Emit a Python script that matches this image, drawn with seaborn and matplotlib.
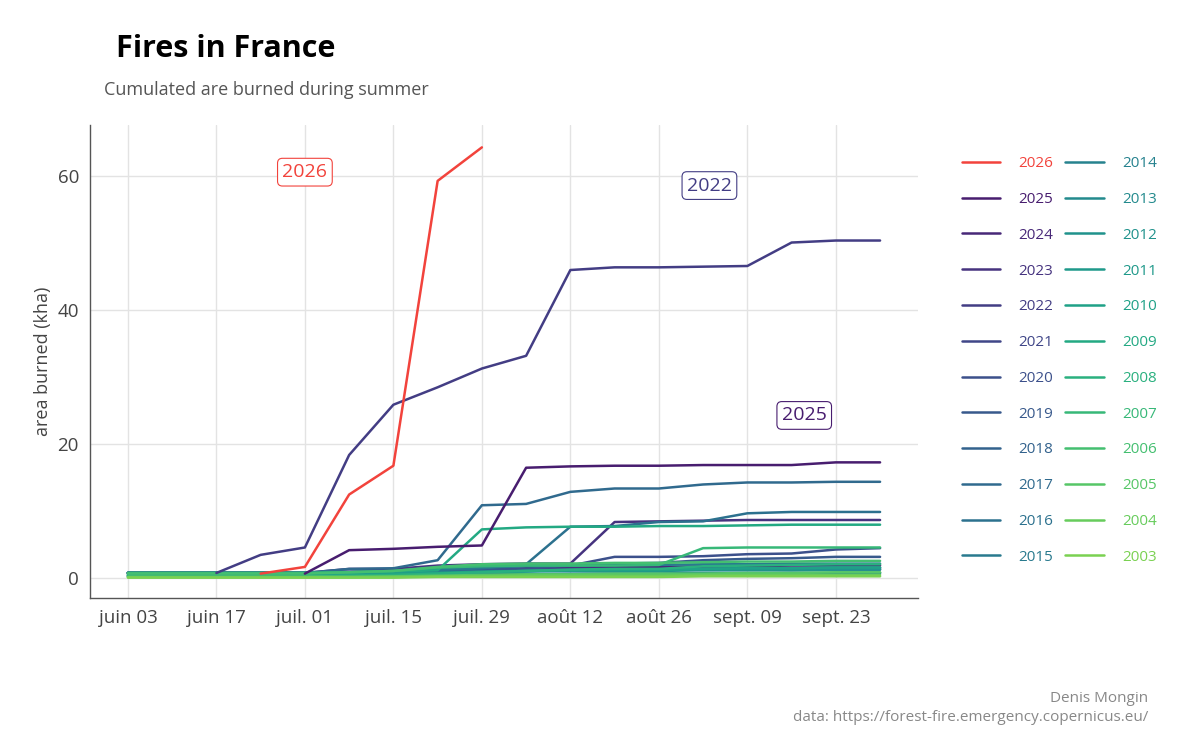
import numpy as np
import pandas as pd
import matplotlib
matplotlib.use("Agg")
import matplotlib.pyplot as plt
import seaborn as sns

dates = pd.date_range("2026-06-03", periods=18, freq="7D")
N = np.nan
years = list(range(2026, 2002, -1))

v2026 = [N, N, N, 0.6, 1.6, 12.4, 16.7, 59.2, 64.2, N, N, N, N, N, N, N, N, N]
v2025 = [N, N, N, N, 0.6, 4.1, 4.3, 4.6, 4.8, 16.4, 16.6, 16.7, 16.7, 16.8, 16.8, 16.8, 17.2, 17.2]
v2024 = [0.7, 0.7, 0.7, 0.7, 0.7, 0.8, 0.8, 1.0, 1.2, 1.4, 1.5, 1.6, 1.6, 1.7, 1.7, 1.8, 1.8, 1.8]
v2023 = [0.7, 0.7, 0.7, 0.7, 0.7, 1.3, 1.3, 1.8, 2.0, 2.1, 2.1, 8.3, 8.4, 8.5, 8.6, 8.6, 8.6, 8.6]
v2022 = [N, N, 0.7, 3.4, 4.5, 18.3, 25.8, 28.4, 31.2, 33.1, 45.9, 46.3, 46.3, 46.4, 46.5, 50.0, 50.3, 50.3]
v2021 = [0.7, 0.7, 0.7, 0.7, 0.7, 0.8, 0.8, 1.0, 1.1, 1.2, 1.3, 1.3, 1.3, 1.4, 1.4, 1.4, 1.4, 1.4]
v2020 = [0.7, 0.7, 0.7, 0.7, 0.7, 0.8, 0.9, 1.1, 1.2, 1.3, 1.8, 3.1, 3.1, 3.2, 3.5, 3.6, 4.2, 4.4]
v2019 = [0.7, 0.7, 0.7, 0.7, 0.7, 0.9, 1.0, 1.3, 1.5, 1.8, 2.0, 2.1, 2.2, 2.6, 2.8, 2.9, 3.1, 3.1]
v2018 = [0.7, 0.7, 0.7, 0.7, 0.7, 0.8, 0.8, 0.9, 1.0, 1.0, 1.1, 1.1, 1.1, 1.2, 1.2, 1.2, 1.2, 1.2]
v2017 = [0.7, 0.7, 0.7, 0.7, 0.7, 1.3, 1.4, 2.6, 10.8, 11.0, 12.8, 13.3, 13.3, 13.9, 14.2, 14.2, 14.3, 14.3]
v2016 = [0.7, 0.7, 0.7, 0.7, 0.7, 0.8, 0.9, 1.1, 1.4, 2.0, 7.6, 7.7, 8.3, 8.4, 9.6, 9.8, 9.8, 9.8]
v2015 = [0.7, 0.7, 0.7, 0.7, 0.7, 0.8, 0.9, 1.2, 1.5, 1.7, 1.8, 1.9, 1.9, 2.0, 2.0, 2.1, 2.1, 2.1]
v2014 = [0.3, 0.3, 0.3, 0.3, 0.3, 0.3, 0.3, 0.4, 0.5, 0.5, 0.6, 0.6, 0.6, 0.7, 0.7, 0.7, 0.7, 0.7]
v2013 = [0.2, 0.2, 0.2, 0.2, 0.2, 0.2, 0.3, 0.3, 0.4, 0.5, 0.5, 0.6, 0.6, 0.6, 0.6, 0.7, 0.7, 0.7]
v2012 = [0.5, 0.5, 0.5, 0.5, 0.5, 0.6, 0.6, 0.7, 0.8, 0.9, 1.0, 1.0, 1.0, 1.1, 1.1, 1.1, 1.2, 1.2]
v2011 = [0.4, 0.4, 0.4, 0.4, 0.4, 0.5, 0.5, 0.6, 0.8, 1.0, 1.1, 1.2, 1.2, 1.3, 1.4, 1.4, 1.5, 1.5]
v2010 = [0.3, 0.3, 0.3, 0.3, 0.3, 0.4, 0.5, 0.7, 0.9, 1.0, 1.1, 1.1, 1.1, 1.3, 1.4, 1.4, 1.5, 1.5]
v2009 = [0.7, 0.7, 0.7, 0.7, 0.7, 0.8, 0.9, 1.1, 7.2, 7.5, 7.6, 7.6, 7.7, 7.7, 7.8, 7.9, 7.9, 7.9]
v2008 = [0.2, 0.2, 0.2, 0.2, 0.2, 0.3, 0.4, 0.6, 0.8, 1.0, 1.2, 1.3, 1.3, 1.7, 1.8, 1.9, 2.0, 2.0]
v2007 = [0.7, 0.7, 0.7, 0.7, 0.7, 0.8, 1.0, 1.5, 1.7, 1.8, 1.8, 1.8, 1.9, 4.4, 4.5, 4.5, 4.5, 4.5]
v2006 = [0.6, 0.6, 0.6, 0.6, 0.6, 0.8, 1.0, 1.6, 2.0, 2.1, 2.1, 2.2, 2.2, 2.3, 2.4, 2.4, 2.5, 2.5]
v2005 = [0.1, 0.1, 0.1, 0.1, 0.1, 0.1, 0.2, 0.3, 0.4, 0.5, 0.5, 0.6, 0.6, 0.6, 0.7, 0.7, 0.8, 0.8]
v2004 = [0.1, 0.1, 0.1, 0.1, 0.1, 0.1, 0.1, 0.2, 0.2, 0.3, 0.3, 0.3, 0.3, 0.4, 0.4, 0.4, 0.4, 0.4]
v2003 = [0.0, 0.0, 0.0, 0.0, 0.0, 0.0, 0.0, 0.1, 0.1, 0.1, 0.1, 0.1, 0.1, 0.2, 0.2, 0.2, 0.2, 0.2]

series = [v2026, v2025, v2024, v2023, v2022, v2021, v2020, v2019, v2018, v2017, v2016, v2015,
          v2014, v2013, v2012, v2011, v2010, v2009, v2008, v2007, v2006, v2005, v2004, v2003]
tick_labels = ["juin 03", "juin 17", "juil. 01", "juil. 15", "juil. 29", "août 12",
               "août 26", "sept. 09", "sept. 23"]

rows = []
for y, vals in zip(years, series):
    for d, v in zip(dates, vals):
        rows.append({"date": d, "year": str(y), "area": v})
df = pd.DataFrame(rows)

sns.set_theme(style="whitegrid")
plt.rcParams["font.family"] = ["Open Sans", "DejaVu Sans"]

cmap = matplotlib.colormaps["viridis"]
pal = {"2026": "#f2433c"}
for i, y in enumerate(years[1:]):
    pal[str(y)] = cmap(0.08 + 0.72 * i / 22)

fig = plt.figure(figsize=(12, 7.5), dpi=100)
ax = fig.add_axes([0.075, 0.203, 0.69, 0.63])
order = [str(y) for y in years]
draw = [y for y in order[1:] if y not in ("2022", "2025")] + ["2022", "2025", "2026"]
for y in draw:
    sub = df[df.year == y]
    sns.lineplot(data=sub, x="date", y="area", color=pal[y], lw=1.8, ax=ax, legend=False)

ax.set_xlim(pd.Timestamp("2026-05-28"), pd.Timestamp("2026-10-06"))
ax.set_ylim(-3, 67.5)
ax.set_yticks([0, 20, 40, 60])
ticks = pd.date_range("2026-06-03", periods=9, freq="14D")
ax.set_xticks(ticks)
ax.set_xticklabels(tick_labels)
ax.tick_params(labelsize=13.5, colors="#444444", length=0, pad=8)
ax.set_xlabel("")
ax.set_ylabel("area burned (kha)", fontsize=13, color="#444444")
ax.grid(color="#e3e3e3", lw=1)
ax.set_facecolor("white")
for s in ["top", "right"]:
    ax.spines[s].set_visible(False)
for s in ["left", "bottom"]:
    ax.spines[s].set_color("#555555")
    ax.spines[s].set_linewidth(1)

def lab(x, y, t, c):
    ax.text(pd.Timestamp(x), y, t, color=c, fontsize=14, ha="center", va="center",
            bbox=dict(boxstyle="round,pad=0.25", fc="white", ec=c, lw=0.8))
lab("2026-07-01", 60.5, "2026", pal["2026"])
lab("2026-09-03", 58.5, "2022", pal["2022"])
lab("2026-09-18", 24.2, "2025", pal["2025"])

handles = [plt.Line2D([], [], color=pal[y], lw=1.8) for y in order]
leg = fig.legend(handles, order, loc="upper left", bbox_to_anchor=(0.79, 0.81), ncol=2,
                 frameon=False, fontsize=11, handlelength=2.5, labelspacing=1.36,
                 columnspacing=0.8, handletextpad=1.2)
for t, y in zip(leg.get_texts(), order):
    t.set_color(pal[y])

fig.text(0.097, 0.935, "Fires in France", fontsize=22, fontweight="bold", va="center", color="black")
fig.text(0.087, 0.88, "Cumulated are burned during summer", fontsize=13, color="#555555", va="center")
fig.text(0.957, 0.068, "Denis Mongin", fontsize=11, color="#888888", ha="right", va="center")
fig.text(0.957, 0.043, "data: https://forest-fire.emergency.copernicus.eu/", fontsize=11,
         color="#888888", ha="right", va="center")
fig.savefig("out.png", dpi=100, facecolor="white")
